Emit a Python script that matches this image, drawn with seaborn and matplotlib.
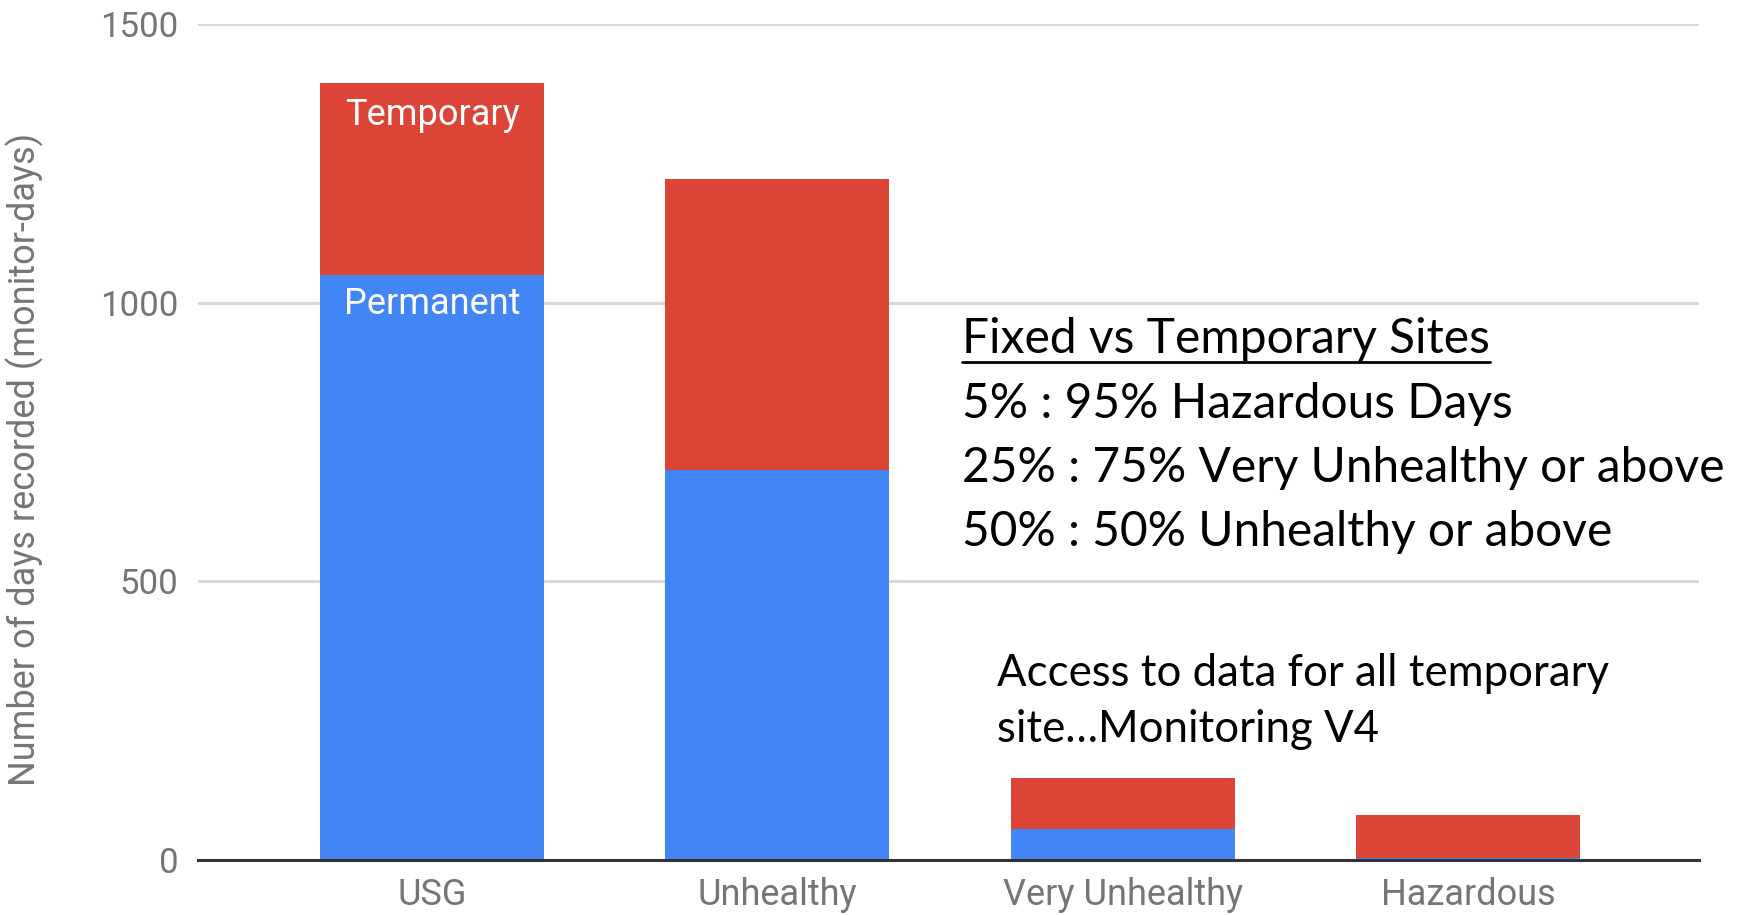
import numpy as np
import pandas as pd
import seaborn as sns
import matplotlib.pyplot as plt
from matplotlib.lines import Line2D

# data (monitor-days)
categories = ['USG', 'Unhealthy', 'Very Unhealthy', 'Hazardous']
permanent = [1050, 700, 55, 4]
temporary = [345, 523, 92, 77]
y_ticks = [0, 500, 1000, 1500]

note_title = 'Fixed vs Temporary Sites'
note_lines = ['5% : 95% Hazardous Days',
              '25% : 75% Very Unhealthy or above',
              '50% : 50% Unhealthy or above']
access_lines = ['Access to data for all temporary', 'site\u2026Monitoring V4']

df = pd.DataFrame({'category': categories,
                   'Permanent': permanent,
                   'Temporary': temporary})
df['total'] = df['Permanent'] + df['Temporary']

BLUE = '#4285F4'
RED = '#DB4437'
GREY = '#757575'

sns.set_style('white')
plt.rcParams['font.family'] = ['Roboto', 'DejaVu Sans']

W, H = 1748, 915
fig = plt.figure(figsize=(W / 100, H / 100), dpi=100)
ax = fig.add_axes([198 / W, 1 - 860 / H, (1699 - 198) / W, (860 - 24.3) / H])

########## stacked bars ##########
sns.barplot(data=df, x='category', y='total', color=RED, width=0.649,
            saturation=1, linewidth=0, edgecolor='none', ax=ax, zorder=3)
sns.barplot(data=df, x='category', y='Permanent', color=BLUE, width=0.649,
            saturation=1, linewidth=0, edgecolor='none', ax=ax, zorder=4)

ax.set_xlim(-0.678, 3.669)
ax.set_ylim(0, 1500)
ax.set_yticks(y_ticks)
ax.set_yticklabels([str(t) for t in y_ticks], fontsize=25, color=GREY)
ax.set_xticklabels(categories, fontsize=26, color=GREY)
ax.tick_params(axis='y', length=0, pad=14)
ax.tick_params(axis='x', length=0, pad=12)
ax.set_xlabel('')
ax.set_ylabel('')
for s in ['top', 'right', 'left']:
    ax.spines[s].set_visible(False)
ax.spines['bottom'].set_color('#333333')
ax.spines['bottom'].set_linewidth(2.2)
ax.spines['bottom'].set_zorder(5)
ax.grid(axis='y', color='#d9d9d9', linewidth=2.2, zorder=0)
ax.set_axisbelow(True)

fig.text(25 / W, 1 - 459 / H, 'Number of days recorded (monitor-days)',
         rotation=90, ha='center', va='center', fontsize=26, color=GREY)

# series labels inside the first bar
ax.text(0, df['total'][0] - 58, 'Temporary', ha='center', va='center',
        color='white', fontsize=26, zorder=6)
ax.text(0, df['Permanent'][0] - 52, 'Permanent', ha='center', va='center',
        color='white', fontsize=26, zorder=6)

########## notes ##########
note_font = ['Lato', 'DejaVu Sans']
t = fig.text(962 / W, 1 - 339 / H, note_title, ha='left', va='center',
             fontsize=34.5, color='black', family=note_font)
for i, line in enumerate(note_lines):
    fig.text(962 / W, 1 - (404 + 64 * i) / H, line, ha='left', va='center',
             fontsize=34.5, color='black', family=note_font)
for i, line in enumerate(access_lines):
    fig.text(997 / W, 1 - (673 + 57 * i) / H, line, ha='left', va='center',
             fontsize=31.5, color='black', family=note_font)

# underline the heading
fig.canvas.draw()
bb = t.get_window_extent()
fig.add_artist(Line2D([bb.x0 / W, bb.x1 / W], [1 - 362 / H, 1 - 362 / H],
                      transform=fig.transFigure, color='black', linewidth=2))

fig.savefig('out.png', dpi=100)
